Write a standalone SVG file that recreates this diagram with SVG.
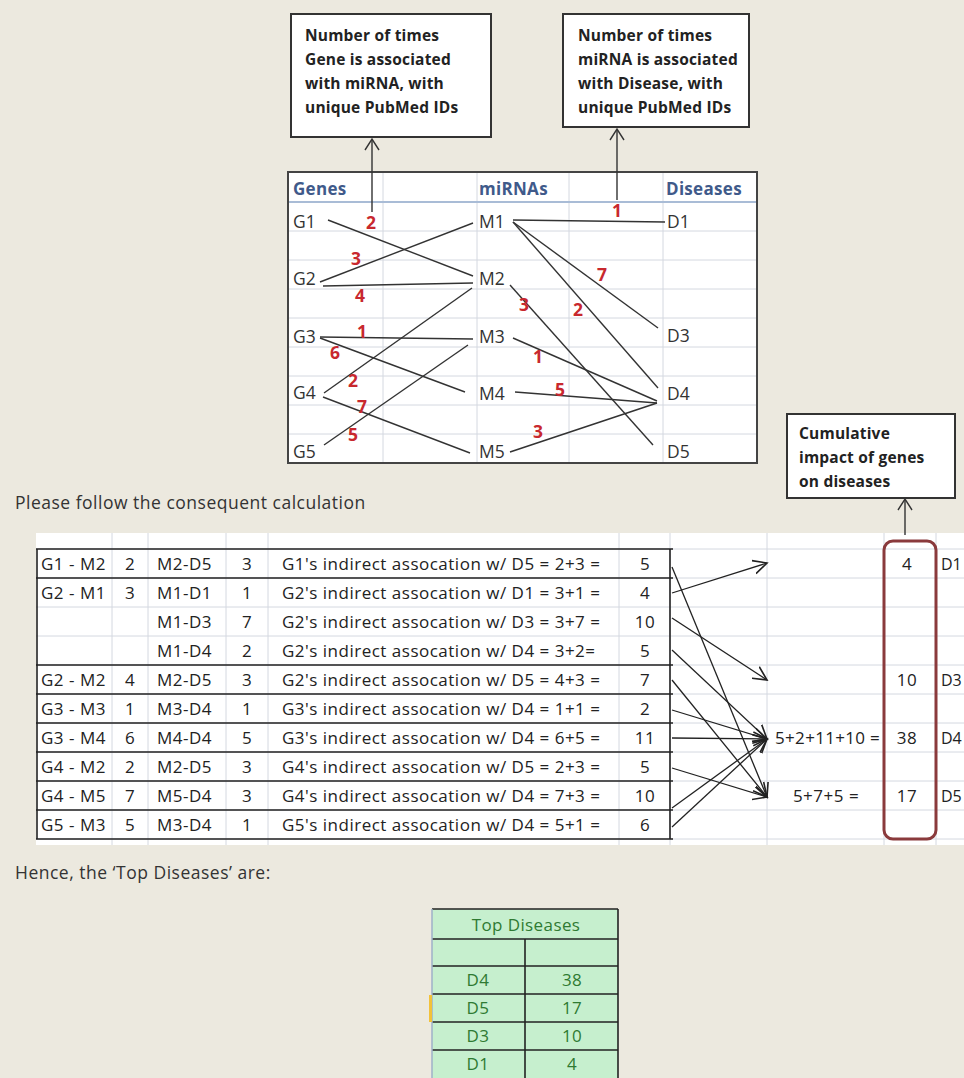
<svg xmlns="http://www.w3.org/2000/svg" width="964" height="1078" viewBox="0 0 964 1078">
<defs>
<marker id="open" markerUnits="userSpaceOnUse" markerWidth="16" markerHeight="16" refX="12" refY="6" orient="auto" viewBox="0 0 14 12">
<path d="M0,0 L12,6 L0,12" fill="none" stroke="#222" stroke-width="1.4"/>
</marker>
<style>
text{font-family:"Open Sans","Liberation Sans",sans-serif;}
.call{font-size:15.5px;font-weight:bold;fill:#222;letter-spacing:0.2px;}
.box{fill:#fff;stroke:#333;stroke-width:2;}
.grid{stroke:#d4d8e0;stroke-width:1;}
.hdr{font-size:17px;font-weight:bold;fill:#3f5a8a;letter-spacing:0.3px;}
.cell{font-size:17.5px;fill:#333;}
.red{font-size:17.5px;font-weight:bold;fill:#c8282e;text-anchor:middle;}
.ln{stroke:#333;stroke-width:1.4;fill:none;}
.tb{font-size:17px;fill:#222;letter-spacing:0.5px;}
.mid{text-anchor:middle;}
.dark{stroke:#222;stroke-width:1.6;}
.arr{stroke:#222;stroke-width:1.3;fill:none;marker-end:url(#open);}
.body{font-size:17.5px;fill:#333;letter-spacing:0.5px;}
.grn{font-size:17px;fill:#2f7a32;text-anchor:middle;letter-spacing:0.4px;}
.dz{font-size:16px;fill:#222;letter-spacing:0;}
</style>
</defs>
<rect width="964" height="1078" fill="#ecE9df"/>

<!-- callouts -->
<g id="callout-gene">
<rect class="box" x="291" y="14" width="200" height="123"/>
<text class="call" x="305" y="41">Number of times</text>
<text class="call" x="305" y="65">Gene is associated</text>
<text class="call" x="305" y="89">with miRNA, with</text>
<text class="call" x="305" y="113">unique PubMed IDs</text>
</g>
<g id="callout-mirna">
<rect class="box" x="563" y="14" width="186" height="113"/>
<text class="call" x="578" y="41">Number of times</text>
<text class="call" x="578" y="65">miRNA is associated</text>
<text class="call" x="578" y="89">with Disease, with</text>
<text class="call" x="578" y="113">unique PubMed IDs</text>
</g>

<!-- top grid -->
<g id="network-grid">
<rect x="288" y="172" width="469" height="291" fill="#fff"/>
<g class="grid">
<line x1="288" y1="231" x2="757" y2="231"/><line x1="288" y1="260" x2="757" y2="260"/>
<line x1="288" y1="289" x2="757" y2="289"/><line x1="288" y1="318" x2="757" y2="318"/>
<line x1="288" y1="347" x2="757" y2="347"/><line x1="288" y1="376" x2="757" y2="376"/>
<line x1="288" y1="405" x2="757" y2="405"/><line x1="288" y1="434" x2="757" y2="434"/>
<line x1="383" y1="172" x2="383" y2="463"/><line x1="477" y1="172" x2="477" y2="463"/>
<line x1="569" y1="172" x2="569" y2="463"/><line x1="663" y1="172" x2="663" y2="463"/>
</g>
<line x1="288" y1="202" x2="757" y2="202" stroke="#a9bcd6" stroke-width="2"/>
<rect x="288" y="172" width="469" height="291" fill="none" stroke="#444" stroke-width="2"/>
<text class="hdr" x="293" y="195">Genes</text>
<text class="hdr" x="479" y="195">miRNAs</text>
<text class="hdr" x="666" y="195">Diseases</text>
</g>
<g id="genes">
<text class="cell" x="293" y="228">G1</text>
<text class="cell" x="293" y="285">G2</text>
<text class="cell" x="293" y="343">G3</text>
<text class="cell" x="293" y="399">G4</text>
<text class="cell" x="293" y="458">G5</text>
</g>
<g id="mirnas">
<text class="cell" x="479" y="228">M1</text>
<text class="cell" x="479" y="285">M2</text>
<text class="cell" x="479" y="343">M3</text>
<text class="cell" x="479" y="400">M4</text>
<text class="cell" x="479" y="458">M5</text>
</g>
<g id="diseases">
<text class="cell" x="667" y="228">D1</text>
<text class="cell" x="667" y="342">D3</text>
<text class="cell" x="667" y="400">D4</text>
<text class="cell" x="667" y="458">D5</text>
</g>

<g id="connectors">
<line class="ln" x1="372" y1="212" x2="372" y2="140"/>
<path class="ln" d="M365,150 L372,139 L379,150"/>
<line class="ln" x1="617" y1="200" x2="617" y2="130"/>
<path class="ln" d="M610,140 L617,129 L624,140"/>
<line class="ln" x1="328" y1="220" x2="473" y2="276"/>
<line class="ln" x1="320" y1="282" x2="473" y2="223"/>
<line class="ln" x1="323" y1="286" x2="473" y2="283"/>
<line class="ln" x1="472" y1="288" x2="324" y2="393"/>
<line class="ln" x1="320" y1="337" x2="473" y2="339"/>
<line class="ln" x1="320" y1="338" x2="465" y2="392"/>
<line class="ln" x1="323" y1="397" x2="470" y2="453"/>
<line class="ln" x1="324" y1="445" x2="468" y2="345"/>
<line class="ln" x1="513" y1="220" x2="665" y2="222"/>
<line class="ln" x1="513" y1="222" x2="658" y2="328"/>
<line class="ln" x1="513" y1="222" x2="658" y2="388"/>
<line class="ln" x1="510" y1="285" x2="653" y2="445"/>
<line class="ln" x1="513" y1="338" x2="657" y2="401"/>
<line class="ln" x1="515" y1="392" x2="657" y2="403"/>
<line class="ln" x1="510" y1="452" x2="657" y2="403"/>
<g id="weights">
<text class="red" x="371" y="229">2</text>
<text class="red" x="356" y="265">3</text>
<text class="red" x="360" y="302">4</text>
<text class="red" x="362" y="338">1</text>
<text class="red" x="335" y="359">6</text>
<text class="red" x="353" y="387">2</text>
<text class="red" x="362" y="413">7</text>
<text class="red" x="353" y="441">5</text>
<text class="red" x="617" y="217">1</text>
<text class="red" x="602" y="281">7</text>
<text class="red" x="524" y="311">3</text>
<text class="red" x="578" y="316">2</text>
<text class="red" x="538" y="363">1</text>
<text class="red" x="560" y="396">5</text>
<text class="red" x="538" y="438">3</text>
</g>
</g>

<text class="body" x="15" y="509">Please follow the consequent calculation</text>

<!-- calc sheet -->
<g id="calc-sheet">
<rect x="36" y="533" width="928" height="312" fill="#fff"/>
<g class="grid">
<line x1="36" y1="549" x2="964" y2="549"/><line x1="36" y1="578" x2="964" y2="578"/>
<line x1="36" y1="607" x2="964" y2="607"/><line x1="36" y1="636" x2="964" y2="636"/>
<line x1="36" y1="665" x2="964" y2="665"/><line x1="36" y1="694" x2="964" y2="694"/>
<line x1="36" y1="723" x2="964" y2="723"/><line x1="36" y1="752" x2="964" y2="752"/>
<line x1="36" y1="781" x2="964" y2="781"/><line x1="36" y1="810" x2="964" y2="810"/>
<line x1="36" y1="839" x2="964" y2="839"/>
<line x1="112" y1="533" x2="112" y2="845"/><line x1="148" y1="533" x2="148" y2="845"/>
<line x1="226" y1="533" x2="226" y2="845"/><line x1="268" y1="533" x2="268" y2="845"/>
<line x1="619" y1="533" x2="619" y2="845"/><line x1="670" y1="533" x2="670" y2="845"/>
<line x1="767" y1="533" x2="767" y2="845"/><line x1="884" y1="533" x2="884" y2="845"/>
<line x1="936" y1="533" x2="936" y2="845"/>
</g>
<g class="dark">
<line x1="36" y1="549" x2="673" y2="549"/><line x1="36" y1="578" x2="673" y2="578"/>
<line x1="36" y1="665" x2="673" y2="665"/><line x1="36" y1="694" x2="673" y2="694"/>
<line x1="36" y1="723" x2="673" y2="723"/><line x1="36" y1="752" x2="673" y2="752"/>
<line x1="36" y1="781" x2="673" y2="781"/><line x1="36" y1="810" x2="673" y2="810"/>
<line x1="36" y1="839" x2="673" y2="839"/>
<line x1="37" y1="549" x2="37" y2="839"/><line x1="670" y1="549" x2="670" y2="839"/>
</g>
</g>
<g id="calc-rows" class="tb">
<text x="41" y="570">G1 - M2</text><text class="mid" x="130" y="570">2</text><text x="157" y="570">M2-D5</text><text class="mid" x="247" y="570">3</text><text x="282" y="570">G1's indirect assocation w/ D5 = 2+3 =</text><text class="mid" x="645" y="570">5</text>
<text x="41" y="599">G2 - M1</text><text class="mid" x="130" y="599">3</text><text x="157" y="599">M1-D1</text><text class="mid" x="247" y="599">1</text><text x="282" y="599">G2's indirect assocation w/ D1 = 3+1 =</text><text class="mid" x="645" y="599">4</text>
<text x="157" y="628">M1-D3</text><text class="mid" x="247" y="628">7</text><text x="282" y="628">G2's indirect assocation w/ D3 = 3+7 =</text><text class="mid" x="645" y="628">10</text>
<text x="157" y="657">M1-D4</text><text class="mid" x="247" y="657">2</text><text x="282" y="657">G2's indirect assocation w/ D4 = 3+2=</text><text class="mid" x="645" y="657">5</text>
<text x="41" y="686">G2 - M2</text><text class="mid" x="130" y="686">4</text><text x="157" y="686">M2-D5</text><text class="mid" x="247" y="686">3</text><text x="282" y="686">G2's indirect assocation w/ D5 = 4+3 =</text><text class="mid" x="645" y="686">7</text>
<text x="41" y="715">G3 - M3</text><text class="mid" x="130" y="715">1</text><text x="157" y="715">M3-D4</text><text class="mid" x="247" y="715">1</text><text x="282" y="715">G3's indirect assocation w/ D4 = 1+1 =</text><text class="mid" x="645" y="715">2</text>
<text x="41" y="744">G3 - M4</text><text class="mid" x="130" y="744">6</text><text x="157" y="744">M4-D4</text><text class="mid" x="247" y="744">5</text><text x="282" y="744">G3's indirect assocation w/ D4 = 6+5 =</text><text class="mid" x="645" y="744">11</text>
<text x="41" y="773">G4 - M2</text><text class="mid" x="130" y="773">2</text><text x="157" y="773">M2-D5</text><text class="mid" x="247" y="773">3</text><text x="282" y="773">G4's indirect assocation w/ D5 = 2+3 =</text><text class="mid" x="645" y="773">5</text>
<text x="41" y="802">G4 - M5</text><text class="mid" x="130" y="802">7</text><text x="157" y="802">M5-D4</text><text class="mid" x="247" y="802">3</text><text x="282" y="802">G4's indirect assocation w/ D4 = 7+3 =</text><text class="mid" x="645" y="802">10</text>
<text x="41" y="831">G5 - M3</text><text class="mid" x="130" y="831">5</text><text x="157" y="831">M3-D4</text><text class="mid" x="247" y="831">1</text><text x="282" y="831">G5's indirect assocation w/ D4 = 5+1 =</text><text class="mid" x="645" y="831">6</text>
</g>

<g id="calc-connectors">
<line class="arr" x1="672" y1="567" x2="767" y2="797"/>
<line class="arr" x1="672" y1="593" x2="767" y2="563"/>
<line class="arr" x1="672" y1="618" x2="767" y2="680"/>
<line class="arr" x1="672" y1="650" x2="767" y2="739"/>
<line class="arr" x1="672" y1="680" x2="767" y2="797"/>
<line class="arr" x1="672" y1="710" x2="767" y2="739"/>
<line class="arr" x1="672" y1="738" x2="767" y2="739"/>
<line class="arr" x1="672" y1="768" x2="767" y2="797"/>
<line class="arr" x1="672" y1="808" x2="767" y2="739"/>
<line class="arr" x1="672" y1="827" x2="767" y2="739"/>
</g>

<g id="cumulative" class="tb">
<text x="880" y="744" text-anchor="end" letter-spacing="0.3">5+2+11+10 =</text>
<text class="mid" x="826" y="802">5+7+5 =</text>
<text class="mid" x="907" y="570">4</text>
<text class="mid" x="907" y="686">10</text>
<text class="mid" x="907" y="744">38</text>
<text class="mid" x="907" y="802">17</text>
<text class="dz" x="941" y="570">D1</text>
<text class="dz" x="941" y="686">D3</text>
<text class="dz" x="941" y="744">D4</text>
<text class="dz" x="941" y="802">D5</text>
<rect x="884" y="541" width="52" height="298" rx="9" fill="none" stroke="#8a3a3c" stroke-width="3"/>
</g>

<g id="callout-cumulative">
<rect class="box" x="787" y="414" width="168" height="84"/>
<text class="call" x="799" y="439">Cumulative</text>
<text class="call" x="799" y="463">impact of genes</text>
<text class="call" x="799" y="487">on diseases</text>
<line class="ln" x1="905" y1="535" x2="905" y2="500"/>
<path class="ln" d="M898,510 L905,499 L912,510"/>
</g>

<text class="body" x="15" y="879">Hence, the ‘Top Diseases’ are:</text>

<g id="top-diseases">
<rect x="432" y="909" width="186" height="169" fill="#c6efce"/>
<g class="dark">
<line x1="432" y1="909" x2="618" y2="909"/>
<line x1="432" y1="939" x2="618" y2="939"/>
<line x1="432" y1="966" x2="618" y2="966"/>
<line x1="432" y1="994" x2="618" y2="994"/>
<line x1="432" y1="1022" x2="618" y2="1022"/>
<line x1="432" y1="1050" x2="618" y2="1050"/>
<line x1="618" y1="909" x2="618" y2="1078"/>
<line x1="525" y1="939" x2="525" y2="1078"/>
</g>
<line x1="432" y1="909" x2="432" y2="1078" stroke="#9fb0c8" stroke-width="1.5"/>
<rect x="429" y="995" width="3" height="27" fill="#f2c23a"/>
<text class="grn" x="526" y="931">Top Diseases</text>
<text class="grn" x="478" y="986">D4</text><text class="grn" x="572" y="986">38</text>
<text class="grn" x="478" y="1014">D5</text><text class="grn" x="572" y="1014">17</text>
<text class="grn" x="478" y="1042">D3</text><text class="grn" x="572" y="1042">10</text>
<text class="grn" x="478" y="1070">D1</text><text class="grn" x="572" y="1070">4</text>
</g>
</svg>
